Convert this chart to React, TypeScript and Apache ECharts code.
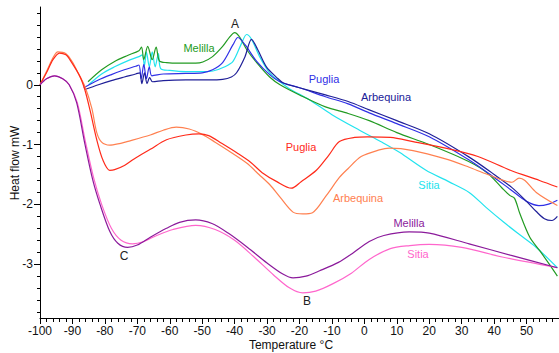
import React, { useEffect, useRef } from "react";
import * as echarts from "echarts";

// Temperature (°C), heat flow (mW)
const melillaUpper: number[][] = [
  [-85.2, 0.05], [-81, 0.25], [-77, 0.39], [-73, 0.49], [-69.5, 0.57],
  [-68.7, 0.63], [-68.0, 0.42], [-66.8, 0.64], [-65.4, 0.42], [-64.2, 0.63], [-63.2, 0.4],
  [-61, 0.37], [-57, 0.36], [-52, 0.36], [-49.8, 0.38], [-46.8, 0.47], [-43.7, 0.64],
  [-41.5, 0.8], [-40, 0.87], [-38.5, 0.8], [-36.3, 0.59], [-33.2, 0.37], [-29.2, 0.13],
  [-26, 0.0], [-20, -0.17], [-12, -0.37], [-5, -0.48], [1.5, -0.6], [10, -0.8],
  [20, -1.0], [32, -1.28], [38, -1.48], [42.5, -1.73], [44.8, -1.85], [46.3, -1.9],
  [47.9, -2.15], [51, -2.55], [54, -2.77], [57, -3.0], [59.5, -3.2],
];
const sitiaUpper: number[][] = [
  [-85, 0.0], [-81, 0.18], [-77, 0.3], [-73, 0.4], [-69.5, 0.47],
  [-68.5, 0.5], [-67.8, 0.32], [-67.2, 0.55], [-66.3, 0.3], [-65.4, 0.55], [-64.5, 0.3],
  [-63.5, 0.52], [-62.8, 0.27], [-60, 0.24], [-55, 0.22], [-50, 0.22], [-46.7, 0.23],
  [-43, 0.3], [-40.5, 0.39], [-37.8, 0.7], [-36.3, 0.84], [-34.8, 0.76], [-32.3, 0.47],
  [-29.2, 0.2], [-26, 0.05], [-23, -0.07], [-17, -0.25], [-10, -0.5], [-1.5, -0.76],
  [5, -0.95], [10.8, -1.13], [19, -1.43], [26, -1.62], [32.3, -1.8], [37.5, -2.05],
  [43, -2.3], [47.7, -2.5], [53, -2.72], [59.5, -3.06],
];
const pugliaUpper: number[][] = [
  [-86.5, -0.05], [-82, 0.08], [-78, 0.17], [-74, 0.25], [-70.5, 0.31], [-69.5, 0.33],
  [-68.8, 0.1], [-68, 0.34], [-67.2, 0.1], [-66.3, 0.3], [-65.5, 0.15], [-62, 0.18],
  [-55, 0.19], [-50, 0.2], [-46.8, 0.25], [-43.7, 0.37], [-40.5, 0.67], [-39, 0.79],
  [-36.8, 0.67], [-33.2, 0.39], [-29.2, 0.17], [-26, 0.05], [-20, -0.05], [-12, -0.2],
  [-5, -0.32], [1.5, -0.47], [10, -0.65], [20, -0.87], [32.3, -1.26], [40, -1.55],
  [45, -1.75], [50, -1.95], [53.8, -2.02], [56.5, -2.0], [59.5, -1.93],
];
const arbequinaUpper: number[][] = [
  [-86.2, -0.08], [-82, 0.0], [-78, 0.07], [-74, 0.13], [-70.5, 0.18], [-69.3, 0.2],
  [-68.6, 0.02], [-67.8, 0.2], [-67, 0.02], [-66.2, 0.12], [-65.3, 0.05], [-62, 0.07],
  [-55, 0.08], [-48, 0.08], [-43.7, 0.09], [-41, 0.13], [-39.4, 0.2], [-36.8, 0.47],
  [-34.8, 0.76], [-32.9, 0.59], [-30.2, 0.3], [-27, 0.12], [-25, 0.03], [-20, -0.05],
  [-12, -0.17], [-5, -0.28], [1.5, -0.42], [10, -0.6], [20, -0.82], [32.3, -1.21],
  [40, -1.5], [45.5, -1.72], [50, -1.95], [53, -2.12], [55.5, -2.24], [57.8, -2.27],
  [59.5, -2.2],
];
const pugliaLower: number[][] = [
  [-100, 0], [-98, 0.2], [-96, 0.42], [-94, 0.53], [-92, 0.5], [-90.8, 0.42],
  [-87.7, 0.14], [-86.2, -0.08], [-84.6, -0.42], [-82.5, -0.92], [-80.6, -1.26],
  [-78.5, -1.43], [-77, -1.42], [-74, -1.35], [-71, -1.24], [-66, -1.08], [-61, -0.92],
  [-55, -0.84], [-51, -0.82], [-48, -0.85], [-44, -0.98], [-39, -1.15], [-35, -1.3],
  [-31.5, -1.47], [-27, -1.62], [-22.5, -1.73], [-19.5, -1.62], [-14.8, -1.43],
  [-11, -1.18], [-7.7, -0.95], [-3, -0.88], [1, -0.87], [8, -0.88], [15, -0.95],
  [25, -1.06], [35, -1.2], [45, -1.43], [54, -1.6], [59.5, -1.71],
];
const arbequinaLower: number[][] = [
  [-100, 0], [-98, 0.22], [-96, 0.45], [-94.5, 0.55], [-92, 0.52], [-90, 0.38],
  [-88, 0.17], [-86, -0.05], [-84, -0.4], [-82.5, -0.8], [-81, -0.96], [-78.5, -1.01],
  [-76, -0.99], [-73.2, -0.95], [-66, -0.84], [-62, -0.76], [-58, -0.71], [-54, -0.74],
  [-50, -0.83], [-46, -0.96], [-42, -1.1], [-36.3, -1.31], [-32.5, -1.5], [-29, -1.68],
  [-26, -1.88], [-22, -2.13], [-19, -2.16], [-16, -2.14], [-11.7, -1.85], [-7.7, -1.55],
  [-5, -1.4], [-1, -1.2], [4.6, -1.09], [7.7, -1.06], [15, -1.1], [25, -1.24],
  [32.3, -1.38], [38, -1.5], [45.5, -1.63], [47.7, -1.56], [49.5, -1.6], [53, -1.8],
  [59.5, -2.02],
];
const melillaLower: number[][] = [
  [-100, 0], [-98, 0.1], [-95.5, 0.15], [-93, 0.1], [-91, 0.0], [-88.7, -0.3],
  [-86.2, -0.98], [-83.7, -1.6], [-81.5, -2.0], [-78.5, -2.45], [-76, -2.65],
  [-73, -2.72], [-70, -2.68], [-66, -2.55], [-61, -2.4], [-57, -2.3], [-52, -2.26],
  [-47, -2.32], [-42, -2.48], [-36, -2.72], [-30, -2.98], [-25, -3.17], [-22, -3.23],
  [-18, -3.2], [-13.8, -3.11], [-8, -2.97], [-3.7, -2.82], [1.5, -2.62], [6, -2.52],
  [13.8, -2.46], [20, -2.48], [32.3, -2.66], [45, -2.85], [59.5, -3.06],
];
const sitiaLower: number[][] = [
  [-100, 0], [-98, 0.1], [-95.5, 0.15], [-93, 0.1], [-91, 0.0], [-88.5, -0.3],
  [-86, -0.95], [-83.5, -1.55], [-81, -2.0], [-78, -2.4], [-75, -2.6], [-71.5, -2.66],
  [-68, -2.62], [-64, -2.52], [-59, -2.42], [-52, -2.35], [-46, -2.42], [-40, -2.6],
  [-34, -2.88], [-28, -3.18], [-23, -3.4], [-19, -3.48], [-15, -3.45], [-9.8, -3.33],
  [-4, -3.15], [1.5, -2.92], [8, -2.74], [14, -2.69], [20, -2.67], [30, -2.72],
  [42.5, -2.88], [59.5, -3.06],
];

const xMinorTicks: number[] = Array.from({ length: 80 }, (_, i) => -100 + i * 2);
const xLabels: number[] = [-100, -90, -80, -70, -60, -50, -40, -30, -20, -10, 0, 10, 20, 30, 40, 50];
const yMinorTicks: number[] = [-3.8, -3.6, -3.4, -3.2, -3.0, -2.8, -2.6, -2.4, -2.2, -2.0, -1.8, -1.6, -1.4, -1.2, -1.0, -0.8, -0.6, -0.4, -0.2, 0, 0.2, 0.4, 0.6, 0.8, 1.0, 1.2];
const yLabels: number[] = [-3, -2, -1, 0];

const FONT = "Liberation Sans";

const C = {
  green: "#239b23",
  cyan: "#22e3ee",
  blue: "#3030e6",
  navy: "#202098",
  red: "#ff2a1a",
  salmon: "#ff8050",
  purple: "#8b1a9b",
  pink: "#ff66cc",
};

function mk(name: string, data: number[][], color: string) {
  return {
    type: "line",
    name,
    data,
    showSymbol: false,
    smooth: 0.3,
    lineStyle: { color, width: 1.2 },
    itemStyle: { color },
    xAxisIndex: 0,
    yAxisIndex: 0,
  };
}

function txt(text: string, x: number, y: number, color: string, size = 11) {
  return {
    type: "text",
    x,
    y,
    style: {
      text,
      fill: color,
      font: `${size}px "${FONT}"`,
      align: "center",
      verticalAlign: "middle",
    },
  };
}

export default function App() {
  const ref = useRef<HTMLDivElement>(null);
  useEffect(() => {
    if (!ref.current) return;
    const chart = echarts.init(ref.current, null, { renderer: "svg" });
    const axisBase = { lineStyle: { color: "#000", width: 1 } };
    chart.setOption({
      animation: false,
      backgroundColor: "#fff",
      grid: { left: 40, right: 0, top: 7, bottom: 35, containLabel: false },
      xAxis: [
        {
          type: "value",
          min: -100,
          max: 60,
          position: "bottom",
          axisLine: { show: true, onZero: false, ...axisBase },
          splitLine: { show: false },
          axisTick: { show: true, length: 4, customValues: xMinorTicks, lineStyle: { color: "#000" } },
          axisLabel: {
            customValues: xLabels,
            color: "#111",
            fontFamily: FONT,
            fontSize: 12,
            margin: 7,
          },
        },
        {
          type: "value",
          min: -100,
          max: 60,
          position: "bottom",
          axisLine: { show: false, onZero: false },
          splitLine: { show: false },
          axisTick: { show: true, length: 6, customValues: xLabels, lineStyle: { color: "#000" } },
          axisLabel: { show: false },
        },
      ],
      yAxis: [
        {
          type: "value",
          min: -3.9,
          max: 1.3,
          position: "left",
          axisLine: { show: true, onZero: false, ...axisBase },
          splitLine: { show: false },
          axisTick: { show: true, length: 3, customValues: yMinorTicks, lineStyle: { color: "#000" } },
          axisLabel: {
            customValues: yLabels,
            color: "#111",
            fontFamily: FONT,
            fontSize: 12,
            margin: 7,
          },
        },
        {
          type: "value",
          min: -3.9,
          max: 1.3,
          position: "left",
          axisLine: { show: false, onZero: false },
          splitLine: { show: false },
          axisTick: { show: true, length: 6, customValues: yLabels, lineStyle: { color: "#000" } },
          axisLabel: { show: false },
        },
      ],
      series: [
        mk("Sitia (upper)", sitiaUpper, C.cyan),
        mk("Melilla (upper)", melillaUpper, C.green),
        mk("Puglia (upper)", pugliaUpper, C.blue),
        mk("Arbequina (upper)", arbequinaUpper, C.navy),
        mk("Arbequina (lower)", arbequinaLower, C.salmon),
        mk("Puglia (lower)", pugliaLower, C.red),
        mk("Sitia (lower)", sitiaLower, C.pink),
        mk("Melilla (lower)", melillaLower, C.purple),
      ],
      graphic: [
        txt("A", 235, 24, "#222", 12),
        txt("B", 307, 301, "#222", 12),
        txt("C", 124, 256, "#222", 12),
        txt("Melilla", 199, 48, C.green),
        txt("Puglia", 324, 79, C.blue),
        txt("Arbequina", 386, 97, C.navy),
        txt("Puglia", 301, 147, C.red),
        txt("Arbequina", 358, 198, C.salmon),
        txt("Sitia", 429, 185, C.cyan),
        txt("Melilla", 409, 223, C.purple),
        txt("Sitia", 418, 254, C.pink),
        txt("Temperature °C", 291, 345, "#111", 12),
        {
          type: "text",
          x: 15,
          y: 163,
          rotation: Math.PI / 2,
          style: {
            text: "Heat flow mW",
            fill: "#111",
            font: `12px "${FONT}"`,
            align: "center",
            verticalAlign: "middle",
          },
        },
      ],
    });
    return () => chart.dispose();
  }, []);
  return (
    <div
      ref={ref}
      style={{ position: "fixed", left: 0, top: 0, width: 559, height: 353, background: "#fff" }}
    />
  );
}
